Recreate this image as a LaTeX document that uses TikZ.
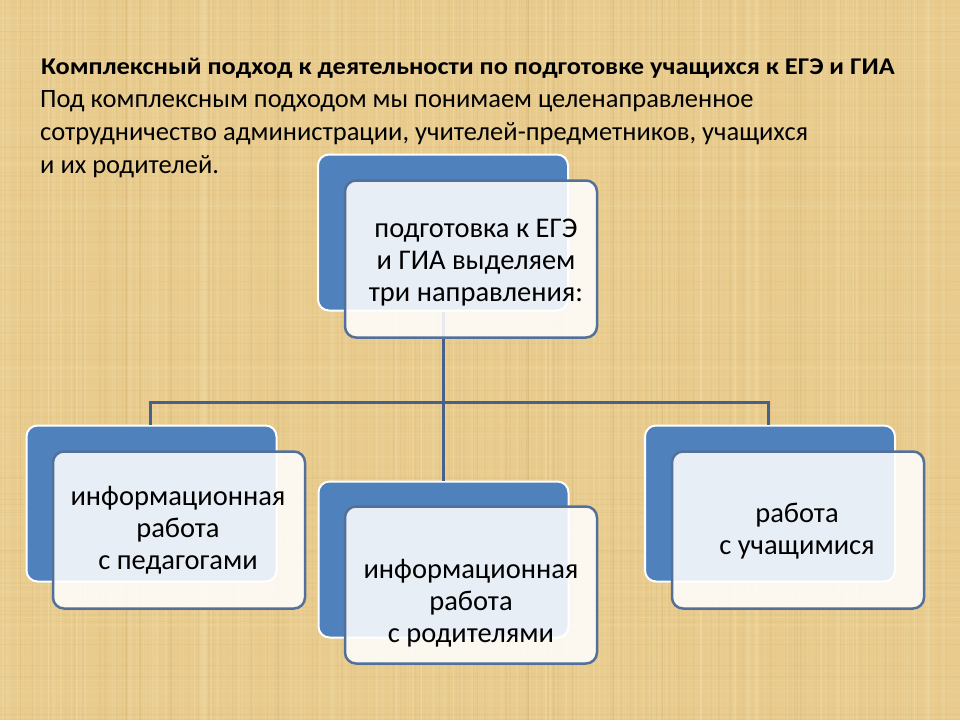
\documentclass[tikz,border=0pt]{standalone}
\usepackage{fontspec}
\setmainfont{Carlito}
\newfontfamily\headfont[FakeStretch=1.1]{Carlito}
\definecolor{bgtan}{HTML}{E8CB8D}
\definecolor{bglight}{HTML}{F2DDA9}
\definecolor{bgdark}{HTML}{D3B070}
\definecolor{offblue}{HTML}{4F81BD}
\definecolor{frontedge}{HTML}{53709A}
\definecolor{linkcol}{HTML}{46618A}
\tikzset{
  backbox/.style={draw=white, line width=2pt, fill=offblue, rounded corners=11pt,
    minimum width=250pt, minimum height=156pt, inner sep=0pt},
  frontbox/.style={draw=frontedge, line width=2.5pt, fill=white, fill opacity=0.87,
    rounded corners=11pt, minimum width=252pt, minimum height=157pt, inner sep=0pt},
  boxtext/.style={align=center, font=\fontsize{28.5}{32}\selectfont, text=black, inner sep=0pt},
  linkline/.style={draw=linkcol, line width=3pt},
  headline/.style={anchor=base west, inner sep=0pt, text=black}
}
\begin{document}
\begin{tikzpicture}[x=1pt,y=-1pt]
\useasboundingbox (0,0) rectangle (960,720);
% background
\fill[bgtan] (0,0) rectangle (960,720);
\pgfmathsetseed{11}
\foreach \i in {1,...,320}{
  \pgfmathsetmacro\xx{random(0,960)}
  \pgfmathsetmacro\ww{0.4+1.0*rnd}
  \pgfmathsetmacro\op{0.12+0.25*rnd}
  \draw[line width=\ww pt, bglight, opacity=\op] (\xx,0) -- (\xx,720);
}
\foreach \i in {1,...,200}{
  \pgfmathsetmacro\xx{random(0,960)}
  \pgfmathsetmacro\ww{0.4+0.8*rnd}
  \pgfmathsetmacro\op{0.06+0.16*rnd}
  \draw[line width=\ww pt, bgdark, opacity=\op] (\xx,0) -- (\xx,720);
}
\foreach \i in {1,...,160}{
  \pgfmathsetmacro\yy{random(0,720)}
  \pgfmathsetmacro\ww{0.4+0.9*rnd}
  \pgfmathsetmacro\op{0.06+0.16*rnd}
  \draw[line width=\ww pt, bglight, opacity=\op] (0,\yy) -- (960,\yy);
}
\foreach \i in {1,...,100}{
  \pgfmathsetmacro\yy{random(0,720)}
  \pgfmathsetmacro\ww{0.4+0.7*rnd}
  \pgfmathsetmacro\op{0.04+0.12*rnd}
  \draw[line width=\ww pt, bgdark, opacity=\op] (0,\yy) -- (960,\yy);
}

% heading text
\node[headline, font=\headfont\fontsize{24}{26}\selectfont\bfseries] (t0) at (41,74)
  {Комплексный подход к деятельности по подготовке учащихся к ЕГЭ и ГИА};
\node[headline, font=\fontsize{26.5}{30}\selectfont] (t1) at (40,107)
  {Под комплексным подходом мы понимаем целенаправленное};
\node[headline, font=\fontsize{26.5}{30}\selectfont] (t2) at (40,140)
  {сотрудничество администрации, учителей-предметников, учащихся};
\node[headline, font=\fontsize{26.5}{30}\selectfont] (t3) at (40,173)
  {и их родителей.};

% boxes (back)
\node[backbox] (topback) at (443,232.5) {};
\node[backbox] (leftback) at (151.5,503.5) {};
\node[backbox] (midback) at (443.5,559.5) {};
\node[backbox] (rightback) at (770,503.5) {};

% connectors
\coordinate (hub) at (443,402);
\coordinate (jl) at (150,402);
\coordinate (jr) at (768,402);
\draw[linkline] (topback.south -| hub) -- (midback.north -| hub);
\draw[linkline] (jl |- leftback.north) -- (jl) -- (jr) -- (jr |- rightback.north);

% boxes (front)
\node[frontbox] (top) at (471,259) {};
\node[frontbox] (left) at (179,530) {};
\node[frontbox] (mid) at (471,585) {};
\node[frontbox] (right) at (798,530) {};

% box texts
\node[boxtext] (toptext) at (476,263) {подготовка к ЕГЭ\\и ГИА выделяем\\три направления:};
\node[boxtext] (lefttext) at (178,530) {информационная\\работа\\ с педагогами};
\node[boxtext] (midtext) at (471,603) {информационная\\работа\\с родителями};
\node[boxtext] (righttext) at (797,531) {работа\\с учащимися};
\end{tikzpicture}
\end{document}
